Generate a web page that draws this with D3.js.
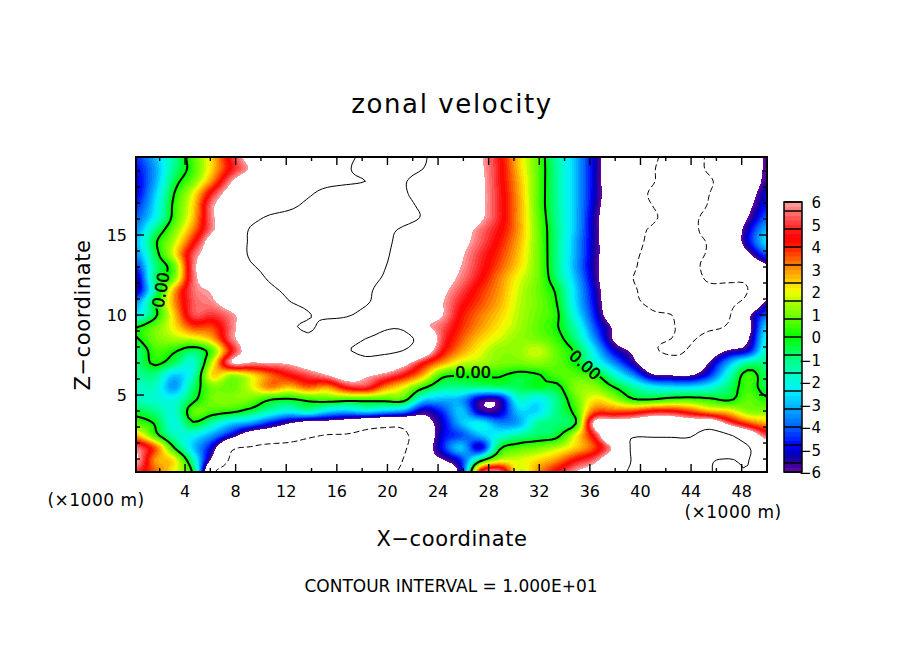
<!DOCTYPE html>
<html><head><meta charset="utf-8">
<script src="https://cdn.jsdelivr.net/npm/d3@7/dist/d3.min.js"></script>
<style>html,body{margin:0;padding:0;background:#fff}svg{display:block}text{font-family:"DejaVu Sans",sans-serif;fill:#000}</style>
</head><body><svg id="c" width="904" height="654"></svg>
<script>
// Zonal velocity: rows from top (z high) to bottom, 34 columns left to right
const zonalVelocity = [
[-4.5,-3,-1.2,0.7,2.5,4.8,6.8,8,8.5,9,9.2,9.6,10.5,11.5,11.5,10.3,9,8,6.2,4.6,2.5,0.8,-1.3,-3,-5.2,-7.5,-8.5,-9.5,-11,-11.5,-9.4,-8,-7,-5.8],
[-4.8,-3.3,-1,0.5,2.5,4.6,6.2,8,8.5,9,9.2,9.7,11,11,10.8,10,8.8,8,6.3,4.7,2.6,0.8,-1.2,-3,-5.2,-7.5,-8.5,-9.7,-11.5,-11,-9.6,-8,-7,-5.8],
[-5,-3.2,-0.5,1,3.2,5.9,7.5,8.3,8.7,9,9.4,9.7,10,11,10.2,9,8.5,8,6.4,4.7,2.8,0.8,-1.2,-3,-5.2,-7.5,-8.5,-9.8,-11,-11,-10.3,-8.5,-7.5,-5.5],
[-5,-2.8,0,2,4.8,6.8,7.6,8.3,8.8,9.7,10.6,11,11.5,11.5,10.3,9,8.5,8,6.4,4.8,2.9,0.8,-1.2,-3,-5.2,-7.3,-8.8,-10.3,-11,-11,-10,-8.5,-7,-5],
[-4.5,-2.5,0.3,2.4,5.8,7,8,8.6,9.4,10.5,11,11.5,12,12,10.8,9.5,8.5,8,6.4,4.8,3,0.8,-1.2,-3,-5.3,-7.5,-9,-10,-11,-11,-9.8,-8.5,-6.5,-4.7],
[-4,-2.2,0.4,2.6,5.8,7.2,9,10.4,11,11.5,12,12,12,12,11,9.8,8.5,7.8,6.3,4.8,3,0.9,-1.1,-3,-5.5,-7.5,-9,-9.6,-11,-10.5,-9.3,-8,-6,-4],
[-3.5,-1,1,3.2,5.8,7.5,10.3,11.5,12,12,12,12,12,10.8,9.6,8.6,7.8,6.8,5.6,4.5,3,1,-1,-3,-5.5,-7.5,-9.2,-10.3,-11.5,-10.5,-9.3,-8,-5.2,-3],
[-3,-0.2,1.6,4.2,7,9,10.2,11.5,12,12,12,12,12,10.6,9.2,8.4,7.5,6.5,5.4,4.2,2.8,1,-1,-3.2,-5.5,-7.5,-9.4,-10.4,-11.5,-10.5,-9.8,-8,-5,-2.5],
[-3.5,-0.5,2,5.3,7,8.5,10.3,11.5,12,12,12,12,12,10.4,9,8.2,7.2,6.2,5,3.9,2.6,1,-1,-3.2,-5.5,-7.5,-9.6,-10.5,-11.5,-10.5,-9.8,-8.5,-6.3,-4],
[-4.5,-1,0.8,5.6,7.3,8.5,9.8,10.6,11.5,12,12,12,11.5,10.1,9,8,7,6,4.8,3.6,2.4,1,-1,-3.3,-5.6,-7.5,-9.7,-10.8,-11.5,-10.5,-9.5,-8.5,-8,-6.3],
[-5.5,-0.8,1,5.5,7,8.5,9.3,10.2,11,11.5,12,11.5,10.8,9.8,8.8,7.8,6.8,5.7,4.5,3.2,2,1,-0.8,-3,-5.5,-7.8,-10,-10.8,-11.5,-10.8,-9.7,-9.6,-9.5,-7.5],
[-5.5,-1.2,2.8,5.5,6.2,8,8.8,9.6,10.4,11,11.2,11,10.4,9.3,8.5,7.5,6.4,5.2,4,3,1.8,0.9,-0.2,-2.7,-5.2,-7.8,-9.7,-10.8,-11.5,-11,-10.5,-10.5,-10,-7],
[-3.5,-0.1,3,5.3,5.8,7,8,8.8,9.9,10.5,11,10.8,10.2,9.2,8.3,7,6.1,4.7,3.7,2.8,1.7,1,0,-2.6,-5,-7.8,-9.6,-10.4,-11.5,-11.5,-11,-10.5,-9.2,-5.6],
[-2.5,-0.3,2.5,5.2,5,5.8,7,8,8.9,9.9,10.3,10.2,9.5,8.7,7.6,6.9,6.1,4.3,3.3,2.5,1.6,0.9,0.2,-2.2,-4.7,-7.5,-9,-9.8,-10,-11.5,-11,-10.3,-6.5,-4],
[-0.1,0.9,2.2,3.8,3.8,5.6,7.2,8,9.6,10.2,9.5,9.2,9,9.7,9.4,6.5,5.4,4,3,2.2,1.5,0.8,0.1,-1.5,-4.2,-6.3,-8.5,-9.5,-9.9,-10.4,-10.3,-9.7,-6.8,-2.5],
[-0.1,1,1.5,1.8,2.8,5.6,7,8,8.6,9.7,9,9.2,10,10.5,10.9,8.7,5.2,3.6,2.5,1.8,1.3,1,0.4,-1,-3.5,-6.2,-8.3,-9.5,-10,-10.2,-9.3,-8.5,-6.2,-2],
[-1,0.5,0.15,-0.7,0.7,4.5,7,8,8.5,9,9,9.8,10.5,10.6,9.9,7.7,4.6,3,2,1.3,1.3,1.8,0.8,-0.2,-2.5,-5,-6.4,-9.5,-10.3,-9.7,-7.5,-5.8,-5,-1.5],
[-1,0.2,-0.7,-1.8,1.8,6,5.9,6,6.2,7,7.5,8,9,8,6.7,4.6,3,1.8,1.5,1.1,1,1.2,0.8,0,-1.7,-3.5,-5.5,-7.8,-9,-8.6,-5.8,-3.2,-1.2,-1],
[-1.2,-1,-2.8,-1.6,2.4,1.4,2.2,3.4,4.4,5.2,6,7,6.3,5.6,4.5,2.8,0.4,0.1,0.1,0.1,-0.3,-0.1,0.6,0.7,0.2,-1.7,-3.5,-5.8,-6.1,-6.1,-4.5,-1.8,0.5,-0.8],
[-1.7,-1.6,-3.4,-0.8,1,0.8,1.8,3.2,2.6,3.5,3,4.6,5,3.2,2,0.3,-1,-1,-1,-0.8,-0.6,-0.2,-0.3,1.2,1.2,0,-1.2,-2.2,-2.5,-2.5,-2,-0.8,0.5,-0.6],
[-1.6,-1.8,-2,-0.3,1,1.2,1,0.1,-0.1,0.3,0.6,0.5,0.5,0.5,0.5,-2.5,-3,-3.2,-5.35,-5.35,-1.8,-2.3,-1,0.8,2.2,1.5,0.1,0,0.4,0.5,0.2,-0.2,0.8,0.2],
[-0.4,-1,-1.8,0.8,0.5,0.2,-0.5,-1.5,-2.2,-1.5,-2.6,-3,-2.5,-3,-3.5,-5.5,-4.5,-2.8,-5.35,-5.35,-2.8,-2.6,-1,0.4,3.6,3.6,3.8,4.5,4.5,3.8,2.8,2.4,1.2,1.2],
[0.7,-0.1,-2,-0.2,-1.5,-2.8,-3.5,-4.8,-6,-7,-7,-7.5,-8.5,-9,-9,-7,-5.2,-3,-2.2,-3.5,-3.2,-1.2,-0.8,0,6.5,7.2,7.5,8,8,7.5,8,5.5,3.8,2.8],
[2.8,0.5,-1.5,-2.2,-3.4,-5.2,-7.5,-8,-8.5,-9.5,-10.2,-10.3,-10.8,-11,-10.5,-8,-5,-4.2,-3,-2,-1.2,-0.7,-0.3,2,4.8,9,9.8,9.8,9.8,9.8,11.5,10.4,8,5.2],
[5.6,3.6,0,-2.8,-5.2,-9.5,-10.2,-10.8,-11,-11.5,-11.5,-11.5,-11.5,-11.5,-10.4,-7.5,-4.8,-2.8,-5.2,-0.3,0.6,1,1.6,2.5,3.8,6.4,10.5,11,11,11,11,11,10.3,7],
[6.2,3,2.2,-1.5,-6.5,-10.5,-11.5,-12,-12,-12,-12,-12,-12,-11.5,-9.9,-7,-6.1,-4.5,-0.6,1.6,1.8,2.3,3,4.4,5.5,8,10.2,11,11.5,11.5,10.2,9.9,10.1,8],
[5,3.5,2,-0.3,-9.5,-11,-12,-12,-12,-12,-12,-12,-12,-10.6,-9.6,-8,-7.5,-5.2,4.5,5.8,1.8,3,4.5,6,7,9.2,10.3,11,12,10.8,10.1,9.5,9.9,8]
];
const xTickValues = [4,8,12,16,20,24,28,32,36,40,44,48];
const zTickValues = [5,10,15];
const barLabels = ["6","5","4","3","2","1","0","\u22121","\u22122","\u22123","\u22124","\u22125","\u22126"];
const colorStopValues = [6,5.6,4.8,4.4,4,3.2,2.4,2,1.6,0.8,0,-0.8,-1.6,-2.4,-3.2,-4,-4.8,-5.2,-5.6,-6];
const colorStopHues = ["#ffa4a4","#ff7474","#ff2020","#ff0000","#ff2000","#ff8000","#ffd800","#f4ff00","#b0ff00","#60ff00","#00ff00","#00ff70","#00ffc0","#00f0ff","#00a8ff","#0060ff","#0000ff","#0000b8","#300098","#6800a8"];
const thresholds = d3.range(-6,6.001,0.2).map(v=>+v.toFixed(1));
const boldLabels = [[161,290,-80],[473,372,0],[585,365,42]];

const svg = d3.select("#c");
const x = d3.scaleLinear().domain([0.125,50]).range([136,767]);
const z = d3.scaleLinear().domain([0.19,19.875]).range([472,157]);
const color = d3.scaleLinear().domain(colorStopValues).range(colorStopHues).clamp(true);

// Catmull-Rom resampling of the read grid, only so that iso-lines render smooth
const H = zonalVelocity.length, W = zonalVelocity[0].length, F = 4;
const w2 = (W-1)*F+1, h2 = (H-1)*F+1;
const cr = (a,b,c,d,t)=>0.5*((2*b)+(-a+c)*t+(2*a-5*b+4*c-d)*t*t+(-a+3*b-3*c+d)*t*t*t);
const g = (i,j)=>zonalVelocity[Math.max(0,Math.min(H-1,j))][Math.max(0,Math.min(W-1,i))];
const fine = new Float64Array(w2*h2);
for(let j=0;j<h2;j++)for(let i=0;i<w2;i++){
  const u=i/F,v=j/F,i0=Math.floor(u),j0=Math.floor(v),tx=u-i0,ty=v-j0;
  const col=[-1,0,1,2].map(k=>cr(g(i0-1,j0+k),g(i0,j0+k),g(i0+1,j0+k),g(i0+2,j0+k),tx));
  fine[j*w2+i]=cr(col[0],col[1],col[2],col[3],ty);
}
const gx = d3.scaleLinear().domain([0.5,w2-0.5]).range([136,767]);
const gy = d3.scaleLinear().domain([0.5,h2-0.5]).range([157,472]);
const path = d3.geoPath(d3.geoTransform({point(a,b){this.stream.point(gx(a),gy(b));}}));
const contours = d3.contours().size([w2,h2]).smooth(true);

const defs = svg.append("defs");
defs.append("clipPath").attr("id","plot").append("rect").attr("x",136).attr("y",157).attr("width",631).attr("height",315);
const mask = defs.append("mask").attr("id","labelGap").attr("maskUnits","userSpaceOnUse").attr("x",0).attr("y",0).attr("width",904).attr("height",654);
mask.append("rect").attr("width",904).attr("height",654).attr("fill","#fff");
boldLabels.forEach(l=>mask.append("rect").attr("x",-19).attr("y",-9).attr("width",38).attr("height",18).attr("fill","#000")
  .attr("transform",`translate(${l[0]},${l[1]}) rotate(${l[2]})`));

const field = svg.append("g").attr("clip-path","url(#plot)");
thresholds.forEach((t,i)=>{
  const fill = i===thresholds.length-1 ? "#fff" : color(t+0.1);
  field.append("path").datum(contours.contour(fine,t)).attr("d",path).attr("fill",fill).attr("shape-rendering","crispEdges");
});
const lines = field.append("g").attr("fill","none").attr("stroke","#000");
lines.append("path").datum(contours.contour(fine,10)).attr("d",path).attr("stroke-width",1);
lines.append("path").datum(contours.contour(fine,-10)).attr("d",path).attr("stroke-width",1).attr("stroke-dasharray","6,3");
lines.append("g").attr("mask","url(#labelGap)").append("path").datum(contours.contour(fine,0)).attr("d",path).attr("stroke-width",2);

boldLabels.forEach(l=>svg.append("text").text("0.00").attr("text-anchor","middle").attr("dominant-baseline","central")
  .attr("font-size",16).attr("stroke","#000").attr("stroke-width",0.5)
  .attr("transform",`translate(${l[0]},${l[1]}) rotate(${l[2]})`));

// frame and ticks
const frame = svg.append("g").attr("stroke","#000").attr("fill","none");
frame.append("rect").attr("x",136).attr("y",157).attr("width",631).attr("height",315).attr("stroke-width",2);
d3.range(2,50,2).forEach(v=>{const L=v%4===0?8:4;
  frame.append("line").attr("x1",x(v)).attr("x2",x(v)).attr("y1",157).attr("y2",157+L);
  frame.append("line").attr("x1",x(v)).attr("x2",x(v)).attr("y1",472).attr("y2",472-L);});
d3.range(1,20).forEach(v=>{const L=v%5===0?8:4;
  frame.append("line").attr("x1",136).attr("x2",136+L).attr("y1",z(v)).attr("y2",z(v));
  frame.append("line").attr("x1",767).attr("x2",767-L).attr("y1",z(v)).attr("y2",z(v));});
frame.selectAll("line").attr("stroke-width",1.4);

xTickValues.forEach(v=>svg.append("text").text(v).attr("x",x(v)).attr("y",497).attr("text-anchor","middle").attr("font-size",16));
zTickValues.forEach(v=>svg.append("text").text(v).attr("x",127).attr("y",z(v)+6).attr("text-anchor","end").attr("font-size",16));

const T=(s,px,py,fs,o={})=>svg.append("text").text(s).attr("x",px).attr("y",py).attr("font-size",fs)
  .attr("text-anchor",o.a||"middle").attr("letter-spacing",o.ls||0).attr("transform",o.r?`rotate(${o.r} ${px} ${py})`:null);
T("zonal velocity",452,113,26,{ls:1.6});
T("X\u2212coordinate",452,546,21,{ls:0.6});
T("Z\u2212coordinate",90,315,21,{r:-90,ls:0.6});
T("(\u00d71000 m)",96,506,17,{ls:0.5});
T("(\u00d71000 m)",733,518,17,{ls:0.5});
T("CONTOUR INTERVAL = 1.000E+01",451,592,17);

// colour bar
const bar = d3.scaleLinear().domain([6,-6]).range([202,472]);
const barG = svg.append("g");
thresholds.slice(0,-1).forEach(t=>barG.append("rect").attr("x",784).attr("width",18).attr("y",bar(t+0.2)).attr("height",bar(t)-bar(t+0.2)+0.5).attr("fill",color(t+0.1)));
const edges=[6,5.6,4.8,4,3.2,2.4,1.6,0.8,0,-0.8,-1.6,-2.4,-3.2,-4,-4.8,-5.6,-6];
edges.forEach(e=>barG.append("line").attr("x1",784).attr("x2",802).attr("y1",bar(e)).attr("y2",bar(e)).attr("stroke","#000").attr("stroke-width",1.5));
barG.append("rect").attr("x",784).attr("y",202).attr("width",18).attr("height",270).attr("fill","none").attr("stroke","#000").attr("stroke-width",1.5);
barLabels.forEach((s,i)=>svg.append("text").text(s).attr("x",821).attr("y",bar(6-i)+6).attr("text-anchor","end").attr("font-size",15));
</script></body></html>
